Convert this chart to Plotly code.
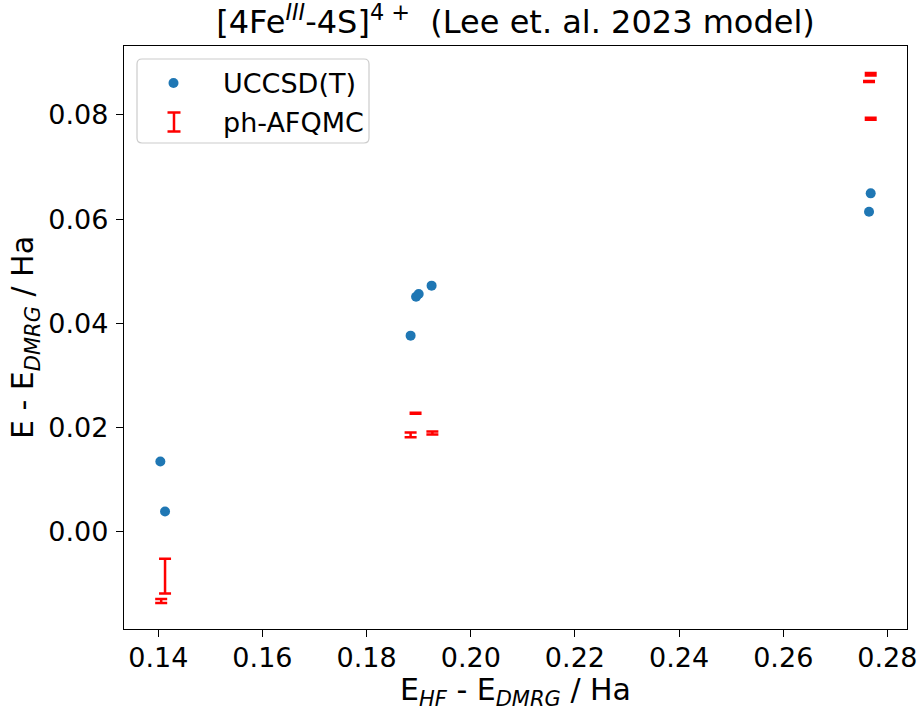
import plotly.graph_objects as go

# ---------------- data ----------------
uccsd_x = [0.1404, 0.1413, 0.18845, 0.1895, 0.1900, 0.19248, 0.27647, 0.27679]
uccsd_y = [0.01344, 0.00384, 0.03762, 0.04510, 0.04562, 0.04722, 0.06142, 0.06495]

afqmc_x = [0.14056, 0.1413, 0.1894, 0.18845, 0.19263, 0.27679, 0.27647, 0.27679]
afqmc_y = [-0.01336, -0.00856, 0.02273, 0.01856, 0.01891, 0.08781, 0.08645, 0.07927]
afqmc_err = [0.0004, 0.00333, 0.0001, 0.00045, 0.0003, 0.00025, 0.0001, 0.0002]

x_tickvals = [0.14, 0.16, 0.18, 0.20, 0.22, 0.24, 0.26, 0.28]
x_ticktext = ["0.14", "0.16", "0.18", "0.20", "0.22", "0.24", "0.26", "0.28"]
y_tickvals = [0.00, 0.02, 0.04, 0.06, 0.08]
y_ticktext = ["0.00", "0.02", "0.04", "0.06", "0.08"]

legend_labels = ["UCCSD(T)", "ph-AFQMC"]

# ---------------- layout constants ----------------
FIG_W, FIG_H = 917, 711
L, R, T, B = 124, 907, 46, 629  # plot area in pixels
W, H = R - L, B - T
FONT = "DejaVu Sans"
FS = 27
FS_LABEL = 30
FS_TITLE = 32
BLUE = "#1f77b4"
RED = "#ff0000"


def px(x):
    return (x - L) / W


def py(y):
    return (B - y) / H


fig = go.Figure()

fig.add_trace(go.Scatter(
    x=uccsd_x, y=uccsd_y, mode="markers",
    marker=dict(color=BLUE, size=10, line=dict(width=0)),
    name=legend_labels[0], showlegend=False,
))

fig.add_trace(go.Scatter(
    x=afqmc_x, y=afqmc_y, mode="markers",
    marker=dict(color="rgba(0,0,0,0)", size=1),
    error_y=dict(type="data", array=afqmc_err, symmetric=True,
                 color=RED, thickness=2.5, width=6),
    name=legend_labels[1], showlegend=False,
))

# ---------------- manual legend (matplotlib style) ----------------
shapes = []
x0, x1 = px(137), px(369)
y0, y1 = py(59), py(143)
rx, ry = 5 / W, 5 / H
path = (f"M {x0+rx},{y0} L {x1-rx},{y0} Q {x1},{y0} {x1},{y0-ry} "
        f"L {x1},{y1+ry} Q {x1},{y1} {x1-rx},{y1} "
        f"L {x0+rx},{y1} Q {x0},{y1} {x0},{y1+ry} "
        f"L {x0},{y0-ry} Q {x0},{y0} {x0+rx},{y0} Z")
shapes.append(dict(type="path", xref="paper", yref="paper", path=path,
                   fillcolor="rgba(255,255,255,0.8)",
                   line=dict(color="#cccccc", width=1.2), layer="above"))
# blue dot
shapes.append(dict(type="circle", xref="paper", yref="paper",
                   xsizemode="pixel", ysizemode="pixel",
                   xanchor=px(173.5), yanchor=py(83),
                   x0=-5, x1=5, y0=-5, y1=5,
                   fillcolor=BLUE, line=dict(width=0), layer="above"))
# red error-bar glyph
for (xa, ya, xb, yb) in [(174, 112.5, 174, 131.5),
                         (167.5, 112.5, 180.5, 112.5),
                         (167.5, 131.5, 180.5, 131.5)]:
    shapes.append(dict(type="line", xref="paper", yref="paper",
                       x0=px(xa), y0=py(ya), x1=px(xb), y1=py(yb),
                       line=dict(color=RED, width=2.5), layer="above"))

annotations = []
for lab, yy in zip(legend_labels, [83, 122]):
    annotations.append(dict(text=lab, xref="paper", yref="paper",
                            x=px(221), y=py(yy), xanchor="left", yanchor="middle",
                            showarrow=False, font=dict(family=FONT, size=FS, color="black")))

axis_common = dict(
    showline=True, linecolor="black", linewidth=1.3, mirror=True,
    ticks="outside", ticklen=7, tickwidth=1.3, tickcolor="black",
    showgrid=False, zeroline=False, ticklabeloverflow="allow",
    tickfont=dict(family=FONT, size=FS, color="black"),
)

fig.update_layout(
    width=FIG_W, height=FIG_H,
    margin=dict(l=L, r=FIG_W - R, t=T, b=FIG_H - B, autoexpand=False),
    plot_bgcolor="white", paper_bgcolor="white",
    showlegend=False,
    title=dict(
        text="[4Fe<sup><i>III</i></sup>-4S]<sup>4 +</sup>  (Lee et. al. 2023 model)",
        x=0.5, xanchor="center", xref="paper",
        y=1 - 22 / FIG_H, yanchor="middle", yref="container",
        font=dict(family=FONT, size=FS_TITLE, color="black"),
    ),
    xaxis=dict(
        range=[0.13342, 0.28376],
        tickvals=x_tickvals, ticktext=x_ticktext, ticklabelstandoff=-3,
        title=dict(text="E<sub><i>HF</i></sub> - E<sub><i>DMRG</i></sub> / Ha",
                   font=dict(family=FONT, size=FS_LABEL, color="black"), standoff=11),
        **axis_common,
    ),
    yaxis=dict(
        range=[-0.01873, 0.09325],
        tickvals=y_tickvals, ticktext=y_ticktext, ticklabelstandoff=2,
        title=dict(text="E - E<sub><i>DMRG</i></sub> / Ha",
                   font=dict(family=FONT, size=FS_LABEL, color="black"), standoff=5),
        **axis_common,
    ),
    shapes=shapes,
    annotations=annotations,
)

fig.write_html(
    "out.html",
    config={"displayModeBar": False},
    post_script="document.body.style.margin='0';document.body.style.overflow='hidden';",
)
